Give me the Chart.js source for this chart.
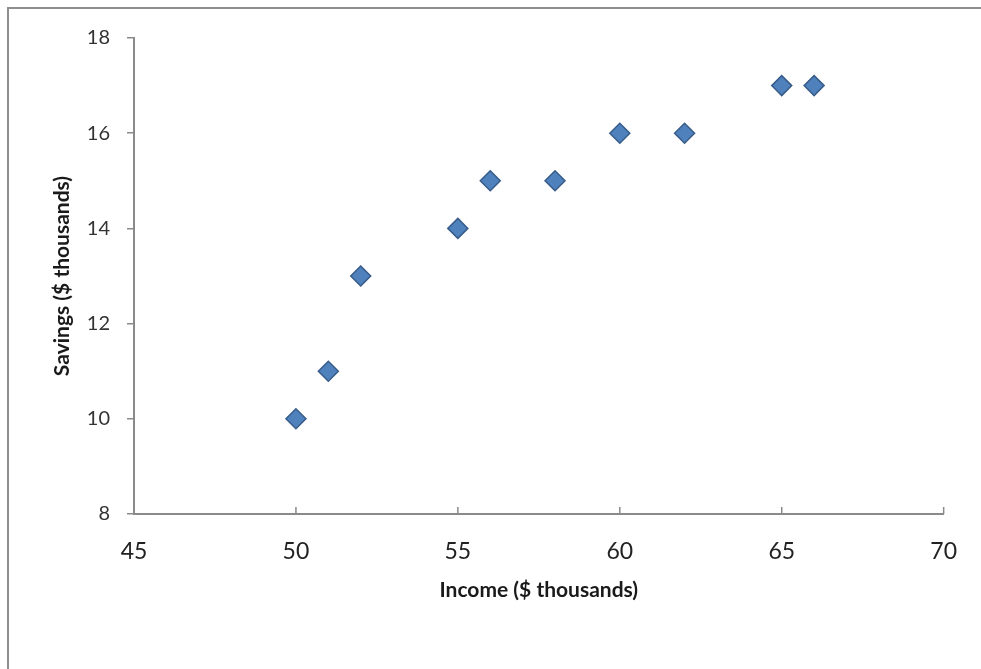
<!DOCTYPE html>
<html>
<head>
<meta charset="utf-8">
<title>Income vs Savings</title>
<script src="https://cdn.jsdelivr.net/npm/chart.js@4"></script>
<style>
    html, body { margin: 0; padding: 0; background: #fff; overflow: hidden; }
    #wrap {
        position: absolute;
        left: 0;
        top: 0;
        width: 981px;
        height: 669px;
    }
</style>
</head>
<body>
<div id="wrap"><canvas id="savingsChart"></canvas></div>
<script>
// Data
const incomeValues = [50, 51, 52, 55, 56, 58, 60, 62, 65, 66];
const savingsValues = [10, 11, 13, 14, 15, 15, 16, 16, 17, 17];
const xTickValues = [45, 50, 55, 60, 65, 70];
const yTickValues = [8, 10, 12, 14, 16, 18];

const axisColor = '#8a8a8a';

// Grey frame along the top and left edges of the picture
const outerFrame = {
    id: 'outerFrame',
    beforeDraw(chart) {
        const ctx = chart.ctx;
        ctx.save();
        ctx.strokeStyle = '#8e8e8e';
        ctx.lineWidth = 2;
        ctx.beginPath();
        ctx.moveTo(8, chart.height);
        ctx.lineTo(8, 8);
        ctx.lineTo(chart.width, 8);
        ctx.stroke();
        ctx.restore();
    }
};

// Short tick marks pointing up into the plot from the x axis
const innerXTicks = {
    id: 'innerXTicks',
    afterDraw(chart) {
        const ctx = chart.ctx;
        const xScale = chart.scales.x;
        const base = chart.chartArea.bottom;
        ctx.save();
        ctx.strokeStyle = axisColor;
        ctx.lineWidth = 1.5;
        xTickValues.forEach(v => {
            const px = xScale.getPixelForValue(v);
            ctx.beginPath();
            ctx.moveTo(px, base);
            ctx.lineTo(px, base - 7);
            ctx.stroke();
        });
        ctx.restore();
    }
};

const points = incomeValues.map((x, i) => ({ x: x, y: savingsValues[i] }));

const ctx = document.getElementById('savingsChart').getContext('2d');
new Chart(ctx, {
    type: 'scatter',
    data: {
        datasets: [{
            label: 'Savings',
            data: points,
            pointStyle: 'rectRot',
            pointRadius: 10,
            pointHoverRadius: 10,
            backgroundColor: '#4f81bd',
            borderColor: '#385d8a',
            borderWidth: 1.5
        }]
    },
    options: {
        responsive: true,
        maintainAspectRatio: false,
        animation: false,
        layout: {
            padding: { top: 38, right: 36, bottom: 0, left: 0 }
        },
        plugins: {
            legend: { display: false },
            tooltip: { enabled: false }
        },
        scales: {
            x: {
                type: 'linear',
                min: 45,
                max: 70,
                afterFit: (scale) => { scale.height = 155; },
                afterBuildTicks: (scale) => {
                    scale.ticks = xTickValues.map(v => ({ value: v }));
                },
                border: { display: true, color: axisColor, width: 2 },
                grid: { drawOnChartArea: false, drawTicks: false },
                ticks: {
                    padding: 24,
                    color: '#222',
                    font: { family: 'Lato', size: 23 }
                },
                title: {
                    display: true,
                    text: 'Income ($ thousands)',
                    color: '#1a1a1a',
                    font: { family: 'Lato', size: 21, weight: 'bold' },
                    padding: { top: 4, bottom: 66 }
                }
            },
            y: {
                type: 'linear',
                min: 8,
                max: 18,
                afterFit: (scale) => { scale.width = 134; },
                afterBuildTicks: (scale) => {
                    scale.ticks = yTickValues.map(v => ({ value: v }));
                },
                border: { display: true, color: axisColor, width: 2 },
                grid: {
                    drawOnChartArea: false,
                    drawTicks: true,
                    tickLength: 7,
                    color: axisColor,
                    lineWidth: 1.5
                },
                ticks: {
                    padding: 17,
                    color: '#333',
                    font: { family: 'Lato', size: 20 }
                },
                title: {
                    display: true,
                    text: 'Savings ($ thousands)',
                    color: '#1a1a1a',
                    font: { family: 'Lato', size: 21, weight: 'bold' },
                    padding: { top: 50, bottom: 0 }
                }
            }
        }
    },
    plugins: [outerFrame, innerXTicks]
});
</script>
</body>
</html>
